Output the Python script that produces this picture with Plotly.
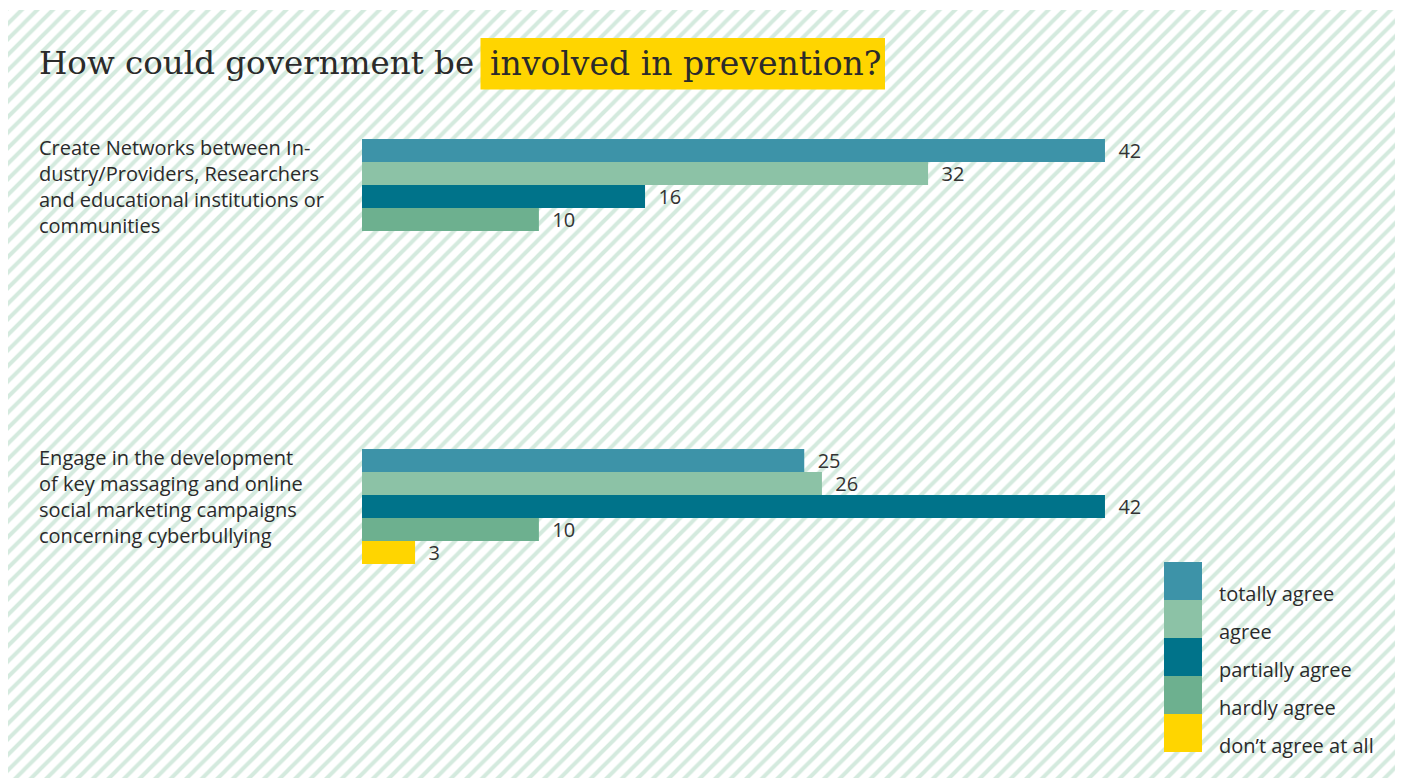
import plotly.graph_objects as go

# survey answers, counts per statement
categories = [
    "Create Networks between In-<br>dustry/Providers, Researchers<br>and educational institutions or<br>communities",
    "Engage in the development<br>of key massaging and online<br>social marketing campaigns<br>concerning cyberbullying",
]
answers = ["totally agree", "agree", "partially agree", "hardly agree", "don\u2019t agree at all"]
totally_agree = [42, 25]
agree = [32, 26]
partially_agree = [16, 42]
hardly_agree = [10, 10]
dont_agree = [None, 3]

series = [totally_agree, agree, partially_agree, hardly_agree, dont_agree]
colors = ["#3d93a8", "#8cc2a6", "#00738a", "#6db08f", "#ffd500"]

# page has an 8px body margin, so the figure is a bit smaller than the window
OFF = 8
W, H = 1403 - OFF, 780 - OFF
SANS = "Open Sans, Noto Sans, sans-serif"
SERIF = "DejaVu Serif, serif"
INK = "#2b2b2b"


def fx(x):
    return (x - OFF) / W


def fy(y):
    return 1 - (y - OFF) / H


fig = go.Figure()

# striped backdrop on its own page-pixel axes
fig.add_trace(go.Scatter(
    x=[7, 1397, 1397, 7, 7], y=[10, 10, 778, 778, 10],
    xaxis="x", yaxis="y", mode="none", fill="toself",
    fillcolor="white",
    fillpattern=dict(shape="/", fgcolor="#a9d5bd", bgcolor="white", size=11, solidity=0.36),
    hoverinfo="skip", showlegend=False,
))

for name, vals, col in zip(answers, series, colors):
    fig.add_trace(go.Bar(
        y=categories, x=vals, name=name, orientation="h",
        marker=dict(color=col, line=dict(width=0)),
        text=["" if v is None else "\u00a0\u00a0" + str(v) for v in vals],
        textposition="outside", constraintext="none", cliponaxis=False,
        textfont=dict(family=SANS, size=20, color="#333"),
        xaxis="x2", yaxis="y2", showlegend=False,
    ))

px_per_unit = 17.69
cat_step = 310.0
c0 = 196.5 - OFF

fig.update_layout(
    width=W, height=H,
    margin=dict(l=0, r=0, t=0, b=0),
    paper_bgcolor="white", plot_bgcolor="rgba(0,0,0,0)",
    barmode="group", bargap=1 - 115 / cat_step, bargroupgap=0,
    xaxis=dict(domain=[0, 1], range=[OFF, OFF + W], visible=False, fixedrange=True),
    yaxis=dict(domain=[0, 1], range=[OFF + H, OFF], visible=False, fixedrange=True),
    xaxis2=dict(domain=[fx(362), 1], range=[0, (W - (362 - OFF)) / px_per_unit],
                visible=False, anchor="y2"),
    yaxis2=dict(domain=[0, 1], range=[1 + (H - (c0 + cat_step)) / cat_step, -c0 / cat_step],
                visible=False, anchor="x2"),
)

# statement labels on the left
for i, cat in enumerate(categories):
    fig.add_annotation(
        x=fx(37), xref="paper", y=i, yref="y2", text=cat, showarrow=False,
        xanchor="left", yanchor="middle", align="left", yshift=10,
        font=dict(family=SANS, size=20, color=INK),
    )

# title with highlighted part
fig.add_shape(type="rect", xref="paper", yref="paper",
              x0=fx(480.5), x1=fx(885), y0=fy(38), y1=fy(89.5),
              fillcolor="#ffd500", line=dict(width=0), layer="above")
fig.add_annotation(
    x=fx(37), xref="paper", y=fy(63), yref="paper", text="How could government be",
    showarrow=False, xanchor="left", yanchor="middle",
    font=dict(family=SERIF, size=32.5, color=INK),
)
fig.add_annotation(
    x=fx(488), xref="paper", y=fy(63), yref="paper", text="involved in prevention?",
    showarrow=False, xanchor="left", yanchor="middle",
    font=dict(family=SERIF, size=33, color=INK),
)

# legend drawn as a stacked colour key
for i, (name, col) in enumerate(zip(answers, colors)):
    top = 562 + i * 38
    fig.add_shape(type="rect", xref="paper", yref="paper",
                  x0=fx(1164), x1=fx(1202), y0=fy(top), y1=fy(top + 38),
                  fillcolor=col, line=dict(width=0), layer="above")
    fig.add_annotation(
        x=fx(1217), xref="paper", y=fy(top + 31), yref="paper", text=name,
        showarrow=False, xanchor="left", yanchor="middle",
        font=dict(family=SANS, size=20, color=INK),
    )

fig.write_html("out.html")
